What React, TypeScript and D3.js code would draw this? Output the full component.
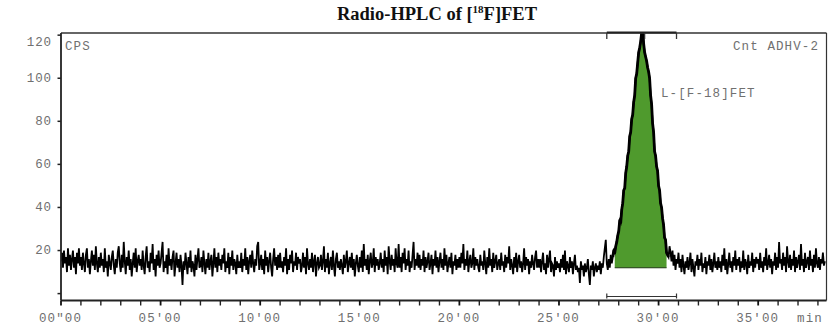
import React from "react";
import * as d3 from "d3";

// Radioactivity trace, counts per second, sampled every 0.05 min from 00'00
const sampleStepMin = 0.05;
const cps: number[] = [
  15, 19, 12, 20, 14, 17, 10, 21, 13, 18, 11, 16, 20, 12, 17, 9, 19, 14, 21, 13,
  17, 11, 19, 14, 10, 18, 21, 12, 16, 9, 15, 20, 13, 18, 11, 22, 14, 10, 17, 12,
  19, 13, 16, 10, 21, 12, 15, 8, 18, 14, 11, 17, 20, 13, 9, 16, 12, 19, 22, 14,
  10, 18, 12, 24, 15, 9, 17, 13, 20, 11, 16, 8, 14, 19, 12, 21, 10, 15, 18, 13,
  16, 11, 20, 13, 9, 17, 22, 12, 15, 10, 19, 14, 23, 11, 16, 8, 18, 13, 20, 12,
  14, 19, 24, 10, 15, 12, 18, 9, 21, 13, 16, 11, 17, 20, 8, 14, 19, 12, 16, 10,
  18, 13, 4, 15, 11, 19, 14, 9, 17, 12, 20, 10, 15, 13, 8, 18, 11, 16, 21, 12,
  13, 17, 10, 20, 14, 9, 16, 12, 19, 11, 15, 18, 8, 14, 21, 12, 17, 10, 19, 13,
  16, 11, 18, 14, 21, 10, 15, 12, 19, 9, 17, 13, 20, 11, 16, 14, 9, 18, 12, 15,
  12, 19, 10, 16, 13, 21, 11, 17, 9, 15, 18, 12, 20, 14, 10, 16, 13, 22, 24, 11,
  14, 18, 11, 16, 9, 20, 13, 17, 10, 15, 19, 12, 8, 16, 21, 13, 17, 11, 18, 12,
  19, 12, 15, 10, 17, 13, 21, 9, 16, 11, 18, 14, 20, 10, 15, 13, 19, 11, 17, 14,
  16, 10, 13, 19, 12, 17, 9, 21, 14, 11, 16, 12, 19, 10, 15, 18, 8, 14, 17, 12,
  13, 18, 11, 15, 22, 10, 16, 12, 19, 9, 14, 17, 11, 20, 13, 8, 16, 19, 12, 15,
  11, 16, 13, 9, 18, 12, 15, 20, 10, 14, 17, 12, 19, 11, 16, 8, 14, 18, 13, 10,
  17, 12, 20, 10, 23, 13, 16, 11, 18, 9, 15, 19, 12, 14, 21, 10, 17, 13, 16, 11,
  14, 19, 12, 16, 10, 20, 13, 17, 9, 22, 15, 11, 18, 13, 16, 10, 21, 14, 12, 23,
  12, 17, 10, 19, 14, 21, 11, 16, 13, 20, 10, 15, 12, 18, 24, 11, 16, 13, 19, 12,
  18, 11, 16, 13, 20, 10, 17, 12, 15, 19, 11, 14, 18, 9, 16, 13, 20, 12, 17, 10,
  15, 19, 12, 16, 11, 21, 13, 18, 10, 14, 17, 12, 19, 9, 15, 13, 18, 11, 16, 12,
  17, 12, 19, 14, 23, 11, 16, 13, 20, 10, 15, 18, 12, 14, 21, 11, 17, 13, 16, 12,
  10, 18, 13, 15, 11, 20, 14, 9, 17, 12, 21, 13, 16, 10, 19, 12, 15, 18, 11, 14,
  16, 11, 19, 13, 15, 10, 18, 12, 17, 14, 22, 11, 16, 13, 9, 17, 12, 19, 10, 15,
  18, 12, 15, 10, 14, 21, 11, 17, 13, 16, 9, 15, 12, 18, 14, 11, 17, 20, 12, 16,
  12, 16, 10, 15, 19, 11, 14, 9, 18, 12, 16, 20, 10, 14, 13, 8, 17, 11, 15, 12,
  14, 10, 16, 12, 18, 11, 20, 9, 15, 13, 10, 17, 12, 15, 9, 14, 18, 11, 13, 10,
  12, 5, 15, 11, 13, 8, 14, 10, 12, 16, 9, 4, 13, 11, 15, 8, 12, 14, 10, 13,
  11, 15, 9, 14, 12, 17, 21, 25, 14, 11, 16, 12, 18, 14, 17, 20, 19, 22, 24, 27,
  29, 34, 33, 39, 42, 48, 49, 56, 59, 64, 66, 73, 75, 81, 83, 89, 92, 100, 102, 107,
  112, 114, 117, 121, 123, 116, 112, 110, 108, 105, 103, 100, 92, 88, 79, 75, 66, 64, 59, 57,
  50, 48, 42, 40, 35, 32, 26, 25, 19, 18, 17, 22, 19, 15, 20, 13, 18, 11, 16, 14,
  19, 12, 16, 10, 18, 13, 9, 15, 12, 17, 11, 14, 19, 10, 16, 12, 8, 15, 13, 18,
  11, 16, 13, 19, 10, 14, 12, 17, 9, 15, 13, 18, 11, 16, 10, 14, 19, 12, 15, 11,
  17, 12, 15, 10, 18, 13, 21, 11, 16, 9, 14, 19, 12, 15, 10, 17, 13, 20, 11, 16,
  13, 17, 10, 15, 12, 20, 11, 16, 14, 9, 18, 12, 15, 13, 19, 10, 16, 12, 17, 14,
  16, 11, 19, 12, 15, 10, 17, 13, 21, 11, 14, 18, 12, 16, 9, 15, 13, 19, 11, 17,
  12, 24, 14, 16, 11, 19, 13, 17, 10, 22, 15, 12, 18, 11, 16, 13, 20, 10, 17, 12,
  15, 18, 11, 23, 13, 16, 10, 19, 12, 15, 17, 11, 20, 13, 16, 10, 18, 12, 21, 14,
  12, 17, 11, 16, 14, 19, 13, 15,
];

const yTicks = [0, 20, 40, 60, 80, 100, 120];
const xMajorTicks = [0, 5, 10, 15, 20, 25, 30, 35];
const xMajorLabels = ["00\"00", "05'00", "10'00", "15'00", "20'00", "25'00", "30'00", "35'00"];
const xMinorTicks = [
  1, 2, 3, 4, 6, 7, 8, 9, 11, 12, 13, 14, 16, 17, 18, 19, 21, 22, 23, 24,
  26, 27, 28, 29, 31, 32, 33, 34, 36, 37, 38,
];

// Integration of the peak
const peakName = "L-[F-18]FET";
const peakStartMin = 27.8;
const peakEndMin = 30.4;
const peakBaselineCps = 12;
const peakWindow = [27.4, 29.3, 30.9]; // start, apex, end marks
const xMaxMin = 38.43;
const yDomain: [number, number] = [-3.2, 121];

const W = 839;
const H = 330;
const left = 61;
const right = 826.5;
const top = 33;
const bottom = 300.5;

const mono = "'Liberation Mono', 'DejaVu Sans Mono', monospace";
const labelColor = "#707070";

export default function App() {
  const x = d3.scaleLinear().domain([0, xMaxMin]).range([left, right]);
  const y = d3.scaleLinear().domain(yDomain).range([bottom, top]);

  const pts = cps.map((v, i) => ({ t: i * sampleStepMin, v }));
  const line = d3
    .line<{ t: number; v: number }>()
    .x((d) => x(d.t))
    .y((d) => y(d.v));

  const peakPts = pts.filter((d) => d.t >= peakStartMin - 1e-6 && d.t <= peakEndMin + 1e-6);
  const peakOutline = pts.filter((d) => d.t >= peakStartMin - 0.1 && d.t <= peakEndMin + 0.1);
  const area = d3
    .area<{ t: number; v: number }>()
    .x((d) => x(d.t))
    .y0(y(peakBaselineCps))
    .y1((d) => y(Math.max(d.v, peakBaselineCps)));

  return (
    <svg
      width={W}
      height={H}
      style={{ position: "absolute", left: 0, top: 0, background: "#fff" }}
    >
      <defs>
        <clipPath id="plotClip">
          <rect x={left} y={top} width={right - left} height={bottom - top} />
        </clipPath>
      </defs>

      <text
        x={437}
        y={19.5}
        textAnchor="middle"
        fontFamily="'Liberation Serif', 'Times New Roman', serif"
        fontWeight="bold"
        fontSize={18.5}
        fill="#111"
      >
        Radio-HPLC of [
        <tspan fontSize={11} dy={-7}>18</tspan>
        <tspan dy={7}>F]FET</tspan>
      </text>

      {/* peak fill */}
      <g clipPath="url(#plotClip)">
        <path d={area(peakPts) || ""} fill="#4f9a2d" stroke="none" />
        <line
          x1={x(peakStartMin)}
          x2={x(peakEndMin)}
          y1={y(peakBaselineCps)}
          y2={y(peakBaselineCps)}
          stroke="#1f3a12"
          strokeWidth={1.2}
        />
        <path
          d={line(pts) || ""}
          fill="none"
          stroke="#000"
          strokeWidth={1.8}
          strokeLinejoin="miter"
        />
        <path
          d={line(peakOutline) || ""}
          fill="none"
          stroke="#000"
          strokeWidth={2.8}
          strokeLinejoin="round"
        />
      </g>

      {/* frame */}
      <line x1={left} x2={right} y1={top} y2={top} stroke="#333" strokeWidth={1.5} />
      <line x1={right} x2={right} y1={top} y2={bottom} stroke="#333" strokeWidth={1.2} />
      <line x1={left} x2={left} y1={top} y2={bottom} stroke="#222" strokeWidth={1.8} />
      <line x1={left} x2={right} y1={bottom} y2={bottom} stroke="#222" strokeWidth={1.8} />

      {/* integration window marks */}
      <line x1={x(peakWindow[0])} x2={x(peakWindow[2])} y1={top - 0.5} y2={top - 0.5} stroke="#222" strokeWidth={1.8} />
      {peakWindow.map((t, i) => (
        <line key={"wt" + i} x1={x(t)} x2={x(t)} y1={top} y2={top + 6} stroke="#333" strokeWidth={1.3} />
      ))}
      <line x1={x(peakWindow[0])} x2={x(peakWindow[2])} y1={bottom - 4} y2={bottom - 4} stroke="#333" strokeWidth={1.2} />
      {[peakWindow[0], peakWindow[2]].map((t, i) => (
        <line key={"wb" + i} x1={x(t)} x2={x(t)} y1={bottom - 7} y2={bottom - 2} stroke="#333" strokeWidth={1.2} />
      ))}

      {/* y axis */}
      {yTicks.map((v) => (
        <g key={"y" + v}>
          <line x1={left - 3.5} x2={left} y1={y(v)} y2={y(v)} stroke="#222" strokeWidth={1.5} />
          {v !== 0 && (
            <text
              x={52}
              y={y(v) + (v === 120 ? 10.5 : 3.5)}
              textAnchor="end"
              fontFamily={mono}
              fontSize={12.5}
              letterSpacing={0.9}
              fill={labelColor}
            >
              {v}
            </text>
          )}
        </g>
      ))}

      {/* x axis */}
      {xMinorTicks.map((t) => (
        <line key={"xm" + t} x1={x(t)} x2={x(t)} y1={bottom} y2={bottom + 5} stroke="#222" strokeWidth={1.4} />
      ))}
      {xMajorTicks.map((t, i) => (
        <g key={"xM" + t}>
          <line x1={x(t)} x2={x(t)} y1={bottom} y2={bottom + 5} stroke="#111" strokeWidth={1.8} />
          <text
            x={x(t) - 0.5}
            y={322}
            textAnchor="middle"
            fontFamily={mono}
            fontSize={12.5}
            letterSpacing={1.1}
            fill={labelColor}
          >
            {xMajorLabels[i]}
          </text>
        </g>
      ))}
      <text x={810} y={322} textAnchor="middle" fontFamily={mono} fontSize={12.5} letterSpacing={1.1} fill={labelColor}>
        min
      </text>

      {/* annotations */}
      <text x={65} y={50} fontFamily={mono} fontSize={12.5} letterSpacing={1.1} fill={labelColor}>
        CPS
      </text>
      <text x={819} y={50} textAnchor="end" fontFamily={mono} fontSize={12.5} letterSpacing={1.1} fill={labelColor}>
        Cnt ADHV-2
      </text>
      <text x={661} y={97} fontFamily={mono} fontSize={12.5} letterSpacing={1.1} fill={labelColor}>
        {peakName}
      </text>
    </svg>
  );
}
